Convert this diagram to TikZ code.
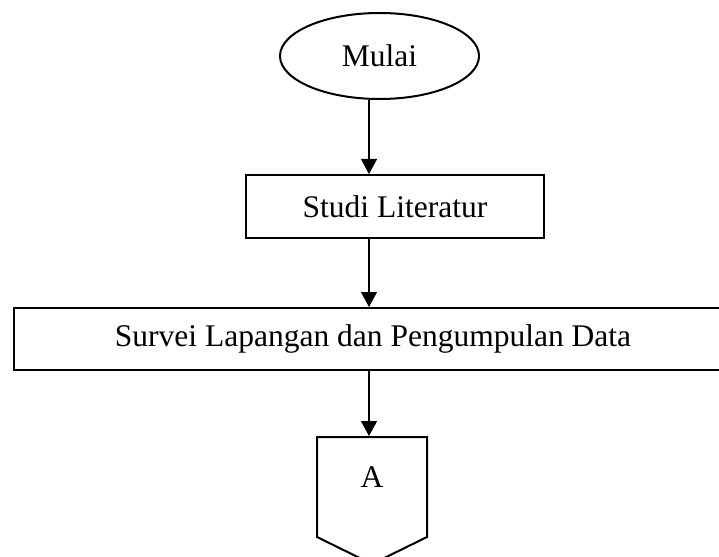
\documentclass[tikz,border=0pt]{standalone}
\usepackage{fontspec}
\setmainfont{Liberation Serif}
\usetikzlibrary{arrows.meta,shapes.geometric}
\tikzset{
  teks/.style={font=\fontsize{31.5}{36}\selectfont},
  kotak/.style={draw, line width=2pt, inner sep=0pt, teks},
  terminal/.style={ellipse, draw, line width=2pt, inner sep=0pt, teks},
  panah/.style={-{Triangle[width=16pt,length=15pt]}, line width=1.2pt}
}
\begin{document}
\begin{tikzpicture}[x=1pt,y=1pt]
    \clip (0,0) rectangle (719,-556);
    % garis bantu untuk semua panah
    \coordinate (G) at (369,0);
    % simbol mulai dan proses
    \node[terminal, minimum width=199pt, minimum height=86pt] (mulai) at (379.5,-56) {Mulai};
    \node[kotak, minimum width=298pt, minimum height=63pt] (studi) at (395,-206.5) {Studi Literatur};
    \node[kotak, minimum width=718pt, minimum height=62pt] (survei) at (373,-339) {Survei Lapangan dan Pengumpulan Data};
    % konektor halaman A
    \coordinate (K1) at (317,-437);
    \coordinate (K2) at (427,-437);
    \coordinate (K3) at (427,-537);
    \coordinate (K4) at (372,-564);
    \coordinate (K5) at (317,-537);
    \draw[line width=2pt, line join=miter] (K1) -- (K2) -- (K3) -- (K4) -- (K5) -- cycle;
    \node[teks] (konektor) at (372,-477) {A};
    \coordinate (Katas) at (369,-436);
    % panah alur
    \draw[panah] (mulai.south -| G) -- (studi.north -| G);
    \draw[panah] (studi.south -| G) -- (survei.north -| G);
    \draw[panah] (survei.south -| G) -- (Katas);
\end{tikzpicture}
\end{document}
